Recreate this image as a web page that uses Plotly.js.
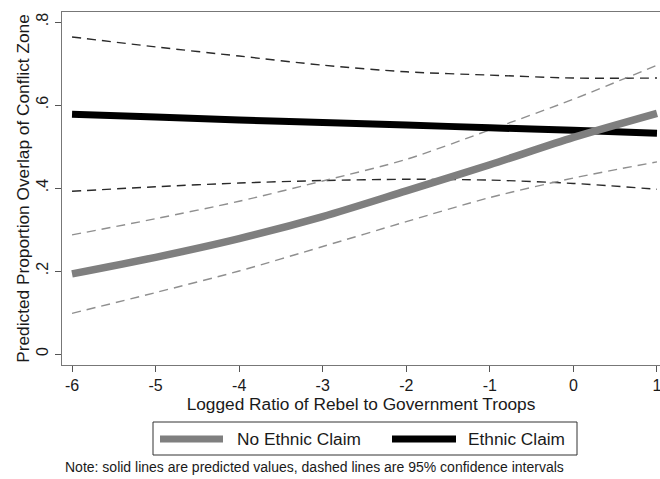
<!DOCTYPE html>
<html>
<head>
<meta charset="utf-8">
<script src="https://cdn.plot.ly/plotly-3.0.1.min.js"></script>
<style>html,body{margin:0;padding:0;background:#fff;}#chart{width:660px;height:479px;}</style>
</head>
<body>
<div id="chart"></div>
<script>
// ---- data ----
var ratio = [-6, -5, -4, -3, -2, -1, 0, 1];
var noEthnicPred  = [0.193, 0.233, 0.278, 0.331, 0.393, 0.456, 0.522, 0.580];
var noEthnicUpper = [0.287, 0.326, 0.368, 0.417, 0.469, 0.540, 0.614, 0.696];
var noEthnicLower = [0.098, 0.148, 0.200, 0.259, 0.319, 0.377, 0.424, 0.463];
var ethnicPred    = [0.578, 0.571, 0.564, 0.558, 0.552, 0.545, 0.539, 0.532];
var ethnicUpper   = [0.764, 0.740, 0.718, 0.696, 0.680, 0.672, 0.665, 0.665];
var ethnicLower   = [0.392, 0.403, 0.412, 0.418, 0.421, 0.419, 0.411, 0.397];
var seriesNames = ["No Ethnic Claim", "Ethnic Claim"];
var yTickVals = [0, 0.2, 0.4, 0.6, 0.8];
var yTickText = ["0", ".2", ".4", ".6", ".8"];
var xTickVals = [-6, -5, -4, -3, -2, -1, 0, 1];
var xTickText = ["-6", "-5", "-4", "-3", "-2", "-1", "0", "1"];
var xTitle = "Logged Ratio of Rebel to Government Troops";
var yTitle = "Predicted Proportion Overlap of Conflict Zone";
var noteText = "Note: solid lines are predicted values, dashed lines are 95% confidence intervals";

// ---- styles ----
var GRAY = "#7f7f7f", GRAYDASH = "#8f8f8f", BLACK = "#000000", BLACKDASH = "#2a2a2a";
var TXT = "#1a1a1a";
var FONT = "Liberation Sans, Arial, Helvetica, sans-serif";
var W = 660, H = 479, L = 62, R = 0, T = 12, B = 114;
var pw = W - L - R, ph = H - T - B;
function px(x) { return (x - L) / pw; }
function py(y) { return (H - B - y) / ph; }

function dashed(y, color) {
  return {x: ratio, y: y, type: "scatter", mode: "lines", showlegend: false, hoverinfo: "skip",
          line: {color: color, width: 1.4, dash: "9px,6px", shape: "spline", smoothing: 0.8}};
}
var traces = [
  dashed(ethnicUpper, BLACKDASH),
  dashed(ethnicLower, BLACKDASH),
  dashed(noEthnicUpper, GRAYDASH),
  dashed(noEthnicLower, GRAYDASH),
  {x: ratio, y: ethnicPred, type: "scatter", mode: "lines", name: seriesNames[1], showlegend: false,
   line: {color: BLACK, width: 7, shape: "spline", smoothing: 0.8}},
  {x: ratio, y: noEthnicPred, type: "scatter", mode: "lines", name: seriesNames[0], showlegend: false,
   line: {color: GRAY, width: 7.5, shape: "spline", smoothing: 0.8}}
];

var legY = 439;
var layout = {
  width: W, height: H,
  margin: {l: L, r: R, t: T, b: B, pad: 0},
  paper_bgcolor: "#ffffff", plot_bgcolor: "#ffffff",
  font: {family: FONT, color: TXT, size: 14},
  showlegend: false,
  xaxis: {
    range: [-6.12, 1.036], tickvals: xTickVals, ticktext: xTickText,
    showgrid: false, zeroline: false, showline: true, mirror: true,
    linecolor: "#777777", linewidth: 1.2,
    ticks: "outside", ticklen: 6, tickcolor: "#555555", tickwidth: 1,
    ticklabeloverflow: "allow",
    tickfont: {size: 16, family: FONT, color: TXT},
    title: {text: xTitle, font: {size: 17.3, family: FONT, color: TXT}, standoff: 2}
  },
  yaxis: {
    range: [-0.0265, 0.8241], tickvals: yTickVals, ticktext: yTickText, tickangle: -90,
    showgrid: false, zeroline: false, showline: true,
    linecolor: "#777777", linewidth: 1.2,
    ticks: "outside", ticklen: 6, tickcolor: "#555555", tickwidth: 1,
    ticklabeloverflow: "allow",
    tickfont: {size: 16, family: FONT, color: TXT},
    title: {text: yTitle, font: {size: 17.3, family: FONT, color: TXT}, standoff: 0}
  },
  shapes: [
    {type: "rect", xref: "paper", yref: "paper", x0: px(153), x1: px(577), y0: py(455), y1: py(422),
     line: {color: "#333333", width: 1}, fillcolor: "rgba(0,0,0,0)"},
    {type: "line", xref: "paper", yref: "paper", x0: px(160), x1: px(223), y0: py(legY), y1: py(legY),
     line: {color: GRAY, width: 7}},
    {type: "line", xref: "paper", yref: "paper", x0: px(392), x1: px(456), y0: py(legY), y1: py(legY),
     line: {color: BLACK, width: 7}}
  ],
  annotations: [
    {xref: "paper", yref: "paper", x: px(235), y: py(legY), xanchor: "left", yanchor: "middle",
     text: seriesNames[0], showarrow: false, font: {size: 17.3, family: FONT, color: TXT}},
    {xref: "paper", yref: "paper", x: px(466), y: py(legY), xanchor: "left", yanchor: "middle",
     text: seriesNames[1], showarrow: false, font: {size: 17.3, family: FONT, color: TXT}},
    {xref: "paper", yref: "paper", x: px(63), y: py(467), xanchor: "left", yanchor: "middle",
     text: noteText, showarrow: false, font: {size: 14, family: FONT, color: TXT}}
  ]
};

Plotly.newPlot("chart", traces, layout, {staticPlot: true, displayModeBar: false});
</script>
</body>
</html>
